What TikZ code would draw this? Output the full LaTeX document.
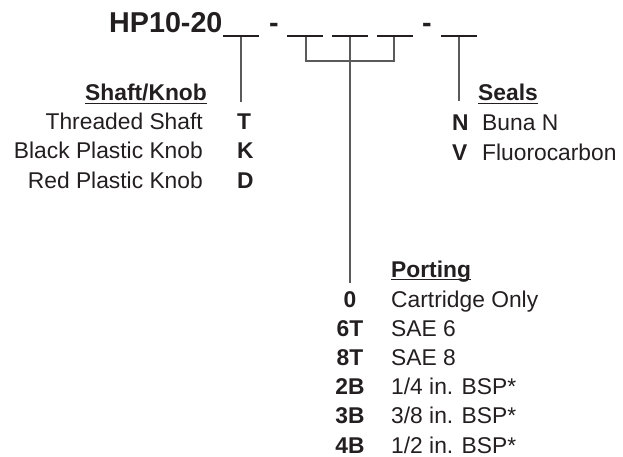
\documentclass[tikz,border=0pt]{standalone}
\usepackage{fontspec}
\setmainfont{Liberation Sans}
\definecolor{ink}{HTML}{231F20}
\definecolor{leadgray}{HTML}{5A5A5A}
\begin{document}
\begin{tikzpicture}[x=1pt,y=-1pt,
    txt/.style={inner sep=0pt,text=ink,font=\fontsize{22.8}{27}\selectfont},
    code/.style={inner sep=0pt,text=ink,font=\fontsize{22.8}{27}\selectfont\bfseries},
    big/.style={inner sep=0pt,text=ink,font=\fontsize{28.7}{34}\selectfont\bfseries},
    lead/.style={draw=leadgray,line width=1.5pt},
    blank/.style={draw=ink,line width=1.5pt},
    uline/.style={draw=ink,line width=1.4pt}]
\useasboundingbox (0,0) rectangle (623,457);
%% part number
\node[big,anchor=base west] (hp) at (109,33) {HP10-20};
\node[big,anchor=base] (d1) at (274,33) {-};
\node[big,anchor=base] (d2) at (427,33) {-};
\coordinate (b1w) at (223,36); \coordinate (b1e) at (259,36);
\coordinate (b2w) at (287,36); \coordinate (b2e) at (323,36);
\coordinate (b3w) at (332,36); \coordinate (b3e) at (368,36);
\coordinate (b4w) at (377,36); \coordinate (b4e) at (413,36);
\coordinate (b5w) at (441,36); \coordinate (b5e) at (477,36);
\foreach \b in {b1,b2,b3,b4,b5}
  \draw[blank] (\b w) -- (\b e);
%% leads
\coordinate (b1m) at (241,37); \coordinate (shaftend) at (241,102);
\coordinate (b2m) at (306,37); \coordinate (b3m) at (350,37);
\coordinate (b4m) at (394,37); \coordinate (join) at (350,61);
\coordinate (portend) at (350,283);
\coordinate (b5m) at (459,37); \coordinate (sealend) at (459,101);
\draw[lead] (b1m) -- (shaftend);
\draw[lead] (b2m) |- (join) -| (b4m);
\draw[lead] (b3m) -- (portend);
\draw[lead] (b5m) -- (sealend);
%% shaft/knob
\node[code,anchor=base east] (shafthead) at (207,101) {Shaft/Knob};
\draw[uline] ([yshift=-2.5pt]shafthead.base west) -- ([yshift=-2.5pt]shafthead.base east);
\foreach \c/\d [count=\i] in {T/Threaded Shaft, K/Black Plastic Knob, D/Red Plastic Knob} {
  \node[txt,anchor=base east] (sd\i) at (203,{129.5+(\i-1)*29.5}) {\d};
  \node[code,anchor=base west] (sc\i) at (237,{129.5+(\i-1)*29.5}) {\c};
}
%% seals
\node[code,anchor=base west] (sealhead) at (478,101) {Seals};
\draw[uline] ([yshift=-2.5pt]sealhead.base west) -- ([yshift=-2.5pt]sealhead.base east);
\foreach \c/\d [count=\i] in {N/Buna N, V/Fluorocarbon} {
  \node[code,anchor=base west] (ec\i) at (452,{131+(\i-1)*29.5}) {\c};
  \node[txt,anchor=base west] (ed\i) at (482,{131+(\i-1)*29.5}) {\d};
}
%% porting
\node[code,anchor=base west] (porthead) at (391,277) {Porting};
\draw[uline] ([yshift=-2.5pt]porthead.base west) -- ([yshift=-2.5pt]porthead.base east);
\foreach \c/\d [count=\i] in {0/Cartridge Only, 6T/SAE 6, 8T/SAE 8, 2B/{1/4 in. BSP*}, 3B/{3/8 in. BSP*}, 4B/{1/2 in. BSP*}} {
  \node[code,anchor=base] (pc\i) at (350,{307+(\i-1)*29.2}) {\c};
  \node[txt,anchor=base west] (pd\i) at (391,{307+(\i-1)*29.2}) {\d};
}
\end{tikzpicture}
\end{document}
